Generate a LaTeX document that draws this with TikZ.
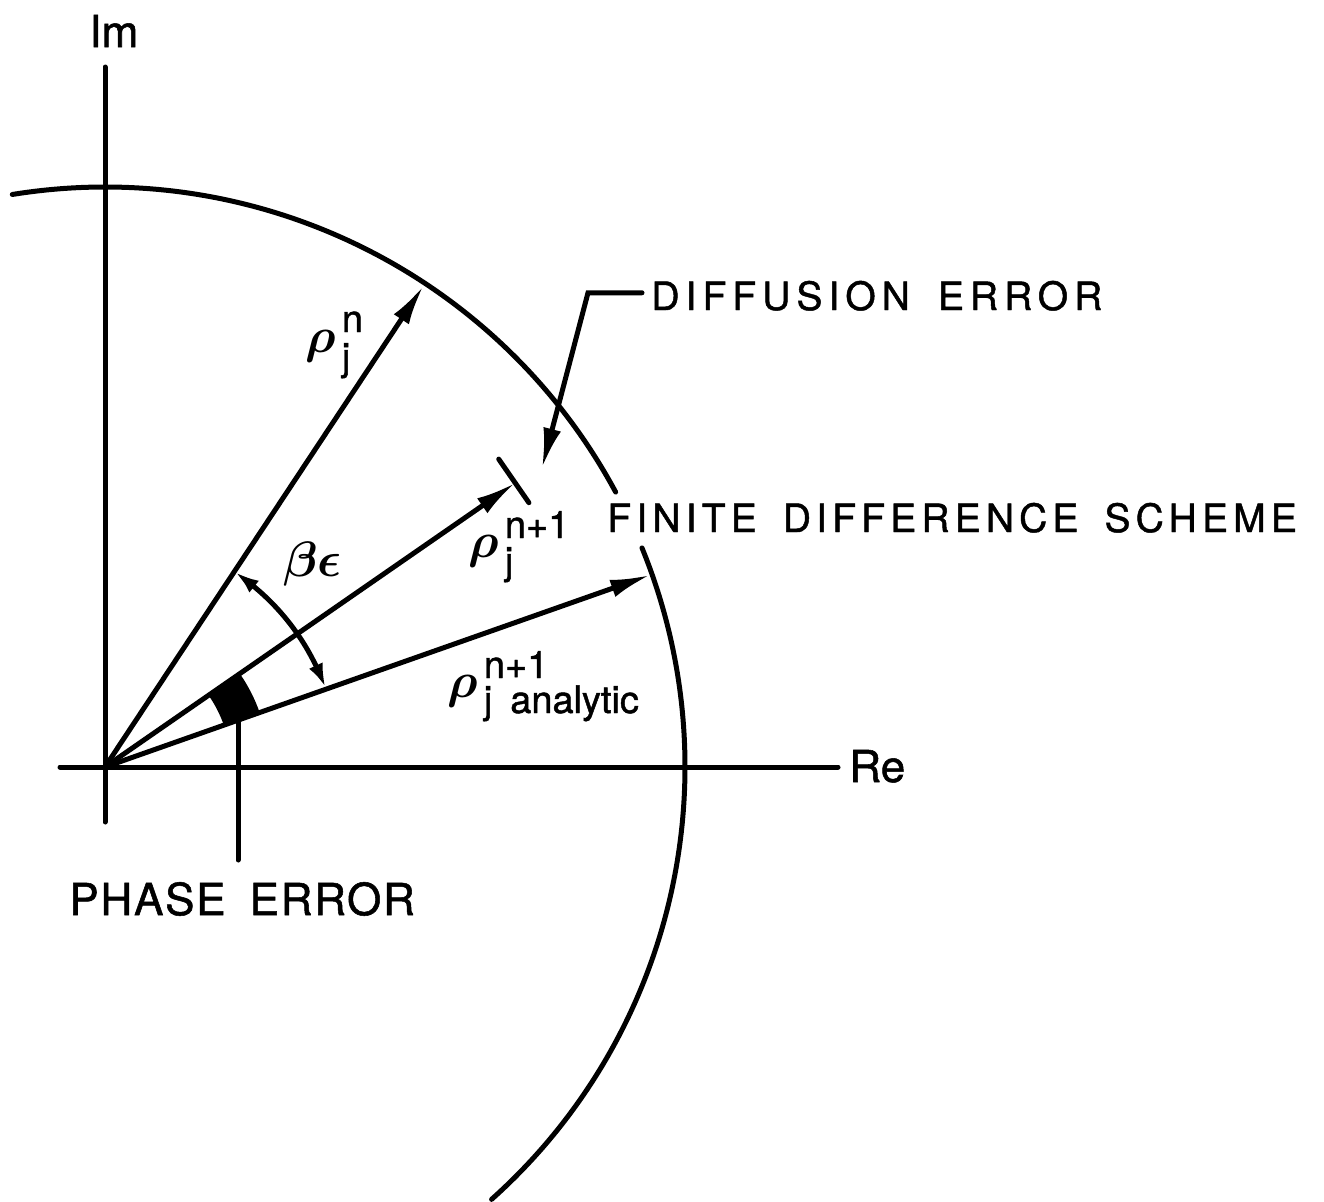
\documentclass[tikz,border=0pt]{standalone}
\usepackage{bm}
\usepackage{fontspec}
\setmainfont[FakeBold=1.2]{TeX Gyre Heros}
\newfontfamily\wideA[LetterSpace=15.5,FakeBold=1.2]{TeX Gyre Heros}
\newfontfamily\wideB[LetterSpace=13.3,FakeBold=1.2]{TeX Gyre Heros}
\newfontfamily\wideC[LetterSpace=4,FakeBold=1.2]{TeX Gyre Heros}
\usetikzlibrary{arrows.meta,calc,bending}
\newcommand\rhosz{\fontsize{25pt}{25pt}\selectfont}
\newcommand\scsz{\fontsize{19pt}{19pt}\selectfont}
\newcommand\rholab[4]{{\rhosz$\bm{\rho}$}\kern3pt\rlap{\raisebox{#3}{\scsz #1}}\raisebox{-#4}{\scsz #2}}
\tikzset{
  ln/.style={line width=2.5pt, line cap=round},
  vec/.style={ln, -{Latex[length=20pt,width=9pt]}},
  dbl/.style={ln, {Latex[length=12pt,width=7.5pt,bend]}-{Latex[length=12pt,width=7.5pt,bend]}},
  txt/.style={inner sep=0pt, anchor=base west},
}
\begin{document}
\begin{tikzpicture}[x=0.5pt,y=0.5pt]
\useasboundingbox (0,0) rectangle (1324,-1201);
\begin{scope}[shift={(105,-767)}]
  \coordinate (O) at (0,0);
  % axes
  \draw[ln] (0,-55) -- (0,700);
  \draw[ln] (-45,0) -- (733,0);
  \node[txt, font=\fontsize{22pt}{22pt}\selectfont] (im) at (-16,720) {Im};
  \node[txt, font=\fontsize{22pt}{22pt}\selectfont] (re) at (744,-15) {Re};
  % circle arcs
  \draw[ln] (99.2:580) arc[start angle=99.2,end angle=28.3,radius=580];
  \draw[ln] (22.2:580) arc[start angle=22.2,end angle=-48.2,radius=580];
  % vectors
  \coordinate (tN) at (56.5:577);
  \coordinate (tF) at (34.7:499);
  \coordinate (tA) at (19.4:578);
  \draw[vec] (O) -- (tN);
  \draw[vec] (O) -- (tF);
  \draw[vec] (O) -- (tA);
  \draw[ln] ($(tF)+(124.7:29)$) -- ($(tF)+(-55.3:24)$);
  % beta epsilon angle
  \draw[dbl] (56.3:234) arc[start angle=56.3,end angle=19.8,radius=234];
  \node[txt, font=\fontsize{23pt}{23pt}\selectfont] (be) at (178,191) {$\bm{\beta\epsilon}$};
  % phase error wedge
  \fill (19.4:126) arc[start angle=19.4,end angle=34.7,radius=126]
        -- (34.7:164) arc[start angle=34.7,end angle=19.4,radius=164] -- cycle;
  \coordinate (ptop) at (133,47);
  \coordinate (pbot) at (133,-93);
  \draw[ln] (ptop) -- (pbot);
  \node[txt, font=\wideC\fontsize{22pt}{22pt}\selectfont] (phase) at (-36,-148) {PHASE\hspace{12pt}ERROR};
  % labels
  \node[txt] (rN) at (200,415) {\rholab{n}{j}{10pt}{9pt}};
  \node[txt] (rF) at (363,210) {\rholab{n+1}{j}{9.5pt}{8.5pt}};
  \node[txt] (rA) at (342,70) {\rholab{n+1}{j\kern9pt analytic}{9.5pt}{8pt}};
  % diffusion error
  \node[txt, font=\wideA\fontsize{19.5pt}{20pt}\selectfont] (diff) at (546,457) {DIFFUSION\hspace{14pt}ERROR};
  \coordinate (dstart) at ($(diff.west)+(-9,3)$);
  \coordinate (dknee) at ($(dstart)+(-54,0)$);
  \coordinate (dtip) at (437,299);
  \draw[vec] (dstart) -- (dknee) -- (dtip);
  % finite difference scheme
  \node[txt, font=\wideB\fontsize{19.5pt}{20pt}\selectfont] (fds) at (502,235) {FINITE\hspace{13pt}DIFFERENCE\hspace{13pt}SCHEME};
\end{scope}
\end{tikzpicture}
\end{document}
